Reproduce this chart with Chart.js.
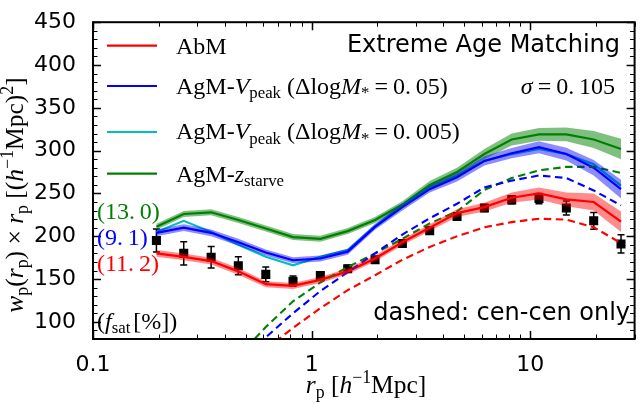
<!DOCTYPE html>
<html><head><meta charset="utf-8">
<script src="https://cdn.jsdelivr.net/npm/chart.js@4/dist/chart.umd.min.js"></script>
<style>html,body{margin:0;padding:0;background:#fff}canvas{display:block}</style>
</head><body>
<canvas id="c" width="641" height="404"></canvas>
<script>
// ---- data ----
const rp = [0.195,0.26,0.347,0.462,0.617,0.822,1.096,1.462,1.95,2.6,3.467,4.624,6.166,8.222,10.96,14.62,19.5,26.0];
const obs    = [195,180,175.5,165.5,155.5,147.5,154,162,172.5,191.5,206.5,223,233,242.5,244,233,218,191];
const obsErr = [13.5,13.5,12.5,10.5,8.5,6,4,4,4,4,4,4,4,4.5,6,8.3,9.7,10.7];
const abm      = [180,176,171,159,144,142,149,159,174,193,210,227,234,245,250,243,240,217];
const abmErr   = [4,4,4,4,3.5,3.5,3.5,3.5,3.5,3.5,4,4.5,5,6,7,8,10,12];
const vpeak05    = [204,210,204,193,181,172,174,182,211,234,255,269,288,297,304,296,280,255];
const vpeak05Err = [4,4,4,4,3.5,3.5,3.5,3.5,3.5,4,4,5,5.5,6,7,7.5,9,11];
const vpeak005 = [205,218,205,190,176,166,176,184,212,236,257,271,288,296,302,296,284,259];
const zstarve    = [211,226,228,219,209,199,197,206,219,237,260,275,296,313,319,319,313,302];
const zstarveErr = [3.5,3.5,3.5,3.5,3.5,3.5,3.5,3.5,3.5,4,4.5,5,6,7,7.5,8,10,12];
const abmCen     = [null,null,null,null,68,93,116,137,154.5,172.5,187.5,200,210.5,216.5,220.5,219.5,210.5,192];
const vpeak05Cen = [null,null,null,58,82,110,136,158,180,202,221,238,257,265,271,268,253.5,236];
const zstarveCen = [null,null,null,60,94,124,146,164,180,197,215,229,254,268,277,281,281,274];
const fsatLabels = ['(13.\u20090)','(9.\u20091)','(11.\u20092)'];
const xLabelVals = [0.1,1,10];
const yLabelStep = 50;

// ---- helpers ----
const pts = arr => rp.map((x,i)=>({x:x, y:arr[i]}));
const RED='#ff0000', BLUE='#0000ff', CYAN='#00bfbf', GREEN='#008000';
function band(vals, errs, color){
  return [
    {data: rp.map((x,i)=>({x, y: vals[i]-errs[i]})), borderWidth:0, pointRadius:0, fill:false},
    {data: rp.map((x,i)=>({x, y: vals[i]+errs[i]})), borderWidth:0, pointRadius:0, fill:'-1', backgroundColor:color}
  ];
}
function line(vals, color, dashed){
  return {data: pts(vals), borderColor:color, borderWidth: dashed?2.1:2.2, borderDash: dashed?[7.5,4.5]:[], pointRadius:0, fill:false, spanGaps:false};
}
const xTicks = [];
[0.1,1,10].forEach(d=>{ for(let m=1;m<=9;m++){ const v=Number((d*m).toPrecision(3)); if(v<=30) xTicks.push(v);} });
const yTicks = [];
for(let v=80; v<=450; v+=10) yTicks.push(v);

const SERIF='"Liberation Serif"';
function rich(ctx, segs, x, y, size, color, align, rot){
  const parts = segs.map(s=>{
    const small = s.sub||s.sup;
    const sz = small ? size*0.7 : size;
    const font = (s.i?'italic ':'') + sz.toFixed(1) + 'px ' + SERIF;
    ctx.font = font;
    return {t:s.t, font, pre:(s.pre||0), w: ctx.measureText(s.t).width + (s.gap||0) + (s.pre||0), dy: s.sub? size*0.2 : (s.sup? -size*0.4 : 0)};
  });
  const total = parts.reduce((a,p)=>a+p.w,0);
  ctx.save();
  ctx.translate(x,y); if(rot) ctx.rotate(rot);
  let cx = align==='right' ? -total : (align==='center' ? -total/2 : 0);
  ctx.fillStyle = color; ctx.textBaseline='alphabetic'; ctx.textAlign='left';
  parts.forEach(p=>{ ctx.font=p.font; ctx.fillText(p.t, cx+p.pre, p.dy); cx+=p.w; });
  ctx.restore();
}

const deco = {
  id:'deco',
  beforeDatasetDraw(chart, args){
    const ds = chart.data.datasets[args.index];
    if(ds.id!=='obs') return;
    const ctx=chart.ctx, xs=chart.scales.x, ys=chart.scales.y;
    ctx.save(); ctx.strokeStyle='#000'; ctx.lineWidth=1.5;
    rp.forEach((r,i)=>{
      const px=xs.getPixelForValue(r), y1=ys.getPixelForValue(obs[i]-obsErr[i]), y2=ys.getPixelForValue(obs[i]+obsErr[i]);
      ctx.beginPath(); ctx.moveTo(px,y1); ctx.lineTo(px,y2);
      ctx.moveTo(px-3.5,y1); ctx.lineTo(px+3.5,y1); ctx.moveTo(px-3.5,y2); ctx.lineTo(px+3.5,y2); ctx.stroke();
    });
    ctx.restore();
  },
  afterDraw(chart){
    const ctx=chart.ctx, a=chart.chartArea, xs=chart.scales.x, ys=chart.scales.y;
    ctx.save();
    // ticks (inward) on all four sides
    ctx.strokeStyle='#000';
    xTicks.forEach(v=>{
      const major = xLabelVals.includes(v); const L = major?8:4.5; const px = Math.round(xs.getPixelForValue(v))+0.5;
      ctx.lineWidth = major?1.5:1;
      ctx.beginPath(); ctx.moveTo(px,a.bottom); ctx.lineTo(px,a.bottom-L); ctx.moveTo(px,a.top); ctx.lineTo(px,a.top+L); ctx.stroke();
    });
    yTicks.forEach(v=>{
      const major = v%yLabelStep===0; const L = major?8:4.5; const py = Math.round(ys.getPixelForValue(v))+0.5;
      ctx.lineWidth = major?1.5:1;
      ctx.beginPath(); ctx.moveTo(a.left,py); ctx.lineTo(a.left+L,py); ctx.moveTo(a.right,py); ctx.lineTo(a.right-L,py); ctx.stroke();
    });
    ctx.lineWidth=2; ctx.strokeRect(a.left, a.top, a.right-a.left, a.bottom-a.top);
    // legend
    const FS = 24;
    const mass = d => [{t:'AgM-'},{t:'V',i:1},{t:'peak',sub:1},{t:' (\u0394log'},{t:'M',i:1},{t:'*',sub:1},{t:'=',pre:5,gap:5},{t:'0.\u2009'+d+')'}];
    const leg = [
      {c:RED,  y:45.7, ty:53.5, s:[{t:'AbM'}]},
      {c:BLUE, y:86,   ty:93.5, s:mass('05')},
      {c:CYAN, y:132,  ty:139,  s:mass('005')},
      {c:GREEN,y:173.7,ty:181.5,s:[{t:'AgM-'},{t:'z',i:1},{t:'starve',sub:1}]}
    ];
    leg.forEach(e=>{
      ctx.strokeStyle=e.c; ctx.lineWidth=2.2; ctx.beginPath(); ctx.moveTo(107,e.y); ctx.lineTo(157,e.y); ctx.stroke();
      rich(ctx, e.s, 176, e.ty, FS, '#000', 'left');
    });
    // sans texts
    ctx.fillStyle='#000'; ctx.font='24px "DejaVu Sans"'; ctx.textBaseline='alphabetic';
    ctx.textAlign='right'; ctx.fillText('Extreme Age Matching', 620, 51.5);
    ctx.fillText('dashed: cen-cen only', 630, 320);
    // sigma
    rich(ctx, [{t:'\u03c3',i:1},{t:'=',pre:5,gap:5},{t:'0.\u2009105'}], 615, 93.5, FS, '#000', 'right');
    // fsat annotations
    rich(ctx, [{t:fsatLabels[0]}], 97, 218.5, FS, GREEN, 'left');
    rich(ctx, [{t:fsatLabels[1]}], 97, 245, FS, BLUE, 'left');
    rich(ctx, [{t:fsatLabels[2]}], 97, 270.5, FS, RED, 'left');
    rich(ctx, [{t:'('},{t:'f',i:1},{t:'sat',sub:1,gap:3},{t:'[%])'}], 97, 328.5, FS, '#000', 'left');
    // axis titles
    rich(ctx, [{t:'r',i:1},{t:'p',sub:1},{t:' ['},{t:'h',i:1},{t:'\u22121',sup:1},{t:'Mpc]'}], 366, 393, 25.5, '#000', 'center');
    rich(ctx, [{t:'w',i:1},{t:'p',sub:1},{t:'('},{t:'r',i:1},{t:'p',sub:1},{t:') \u00d7 '},{t:'r',i:1},{t:'p',sub:1},{t:' [('},{t:'h',i:1},{t:'\u22121',sup:1},{t:'Mpc)'},{t:'2',sup:1},{t:']'}], 23, 195, 25.5, '#000', 'center', -Math.PI/2);
    ctx.restore();
  }
};

const datasets = [
  ...band(abm, abmErr, 'rgba(255,0,0,0.45)'),
  ...band(vpeak05, vpeak05Err, 'rgba(0,0,255,0.45)'),
  ...band(zstarve, zstarveErr, 'rgba(0,128,0,0.5)'),
  line(abmCen, RED, true),
  line(vpeak05Cen, BLUE, true),
  line(zstarveCen, GREEN, true),
  line(abm, RED, false),
  line(vpeak05, BLUE, false),
  line(vpeak005, CYAN, false),
  line(zstarve, GREEN, false),
  {id:'obs', data: pts(obs), showLine:false, pointStyle:'rect', pointRadius:6.4, pointBackgroundColor:'#000', pointBorderColor:'#000', pointBorderWidth:0}
];

Chart.defaults.font.family = '"DejaVu Sans"';
Chart.defaults.color = '#000';
new Chart(document.getElementById('c'), {
  type:'line',
  data:{datasets},
  options:{
    responsive:false, animation:false, devicePixelRatio:1,
    layout:{padding:{left:0,right:4,top:21,bottom:0}},
    plugins:{legend:{display:false}, tooltip:{enabled:false}},
    elements:{line:{tension:0}},
    scales:{
      x:{type:'logarithmic', min:0.1, max:30,
         afterBuildTicks: s=>{ s.ticks = xTicks.map(v=>({value:v})); },
         afterFit: s=>{ s.height = 65; },
         grid:{display:false}, border:{display:false},
         ticks:{autoSkip:false, maxRotation:0, padding:5, font:{size:22, family:'"DejaVu Sans"'}, color:'#000',
                callback: v => xLabelVals.includes(v) ? String(v) : ''}},
      y:{type:'linear', min:80, max:450,
         afterBuildTicks: s=>{ s.ticks = yTicks.map(v=>({value:v})); },
         afterFit: s=>{ s.width = 93; },
         grid:{display:false}, border:{display:false},
         ticks:{autoSkip:false, padding:9, font:{size:22, family:'"DejaVu Sans"'}, color:'#000',
                callback: v => (v%yLabelStep===0 && v>=100) ? String(v) : ''}}
    }
  },
  plugins:[deco]
});
</script>
</body></html>
